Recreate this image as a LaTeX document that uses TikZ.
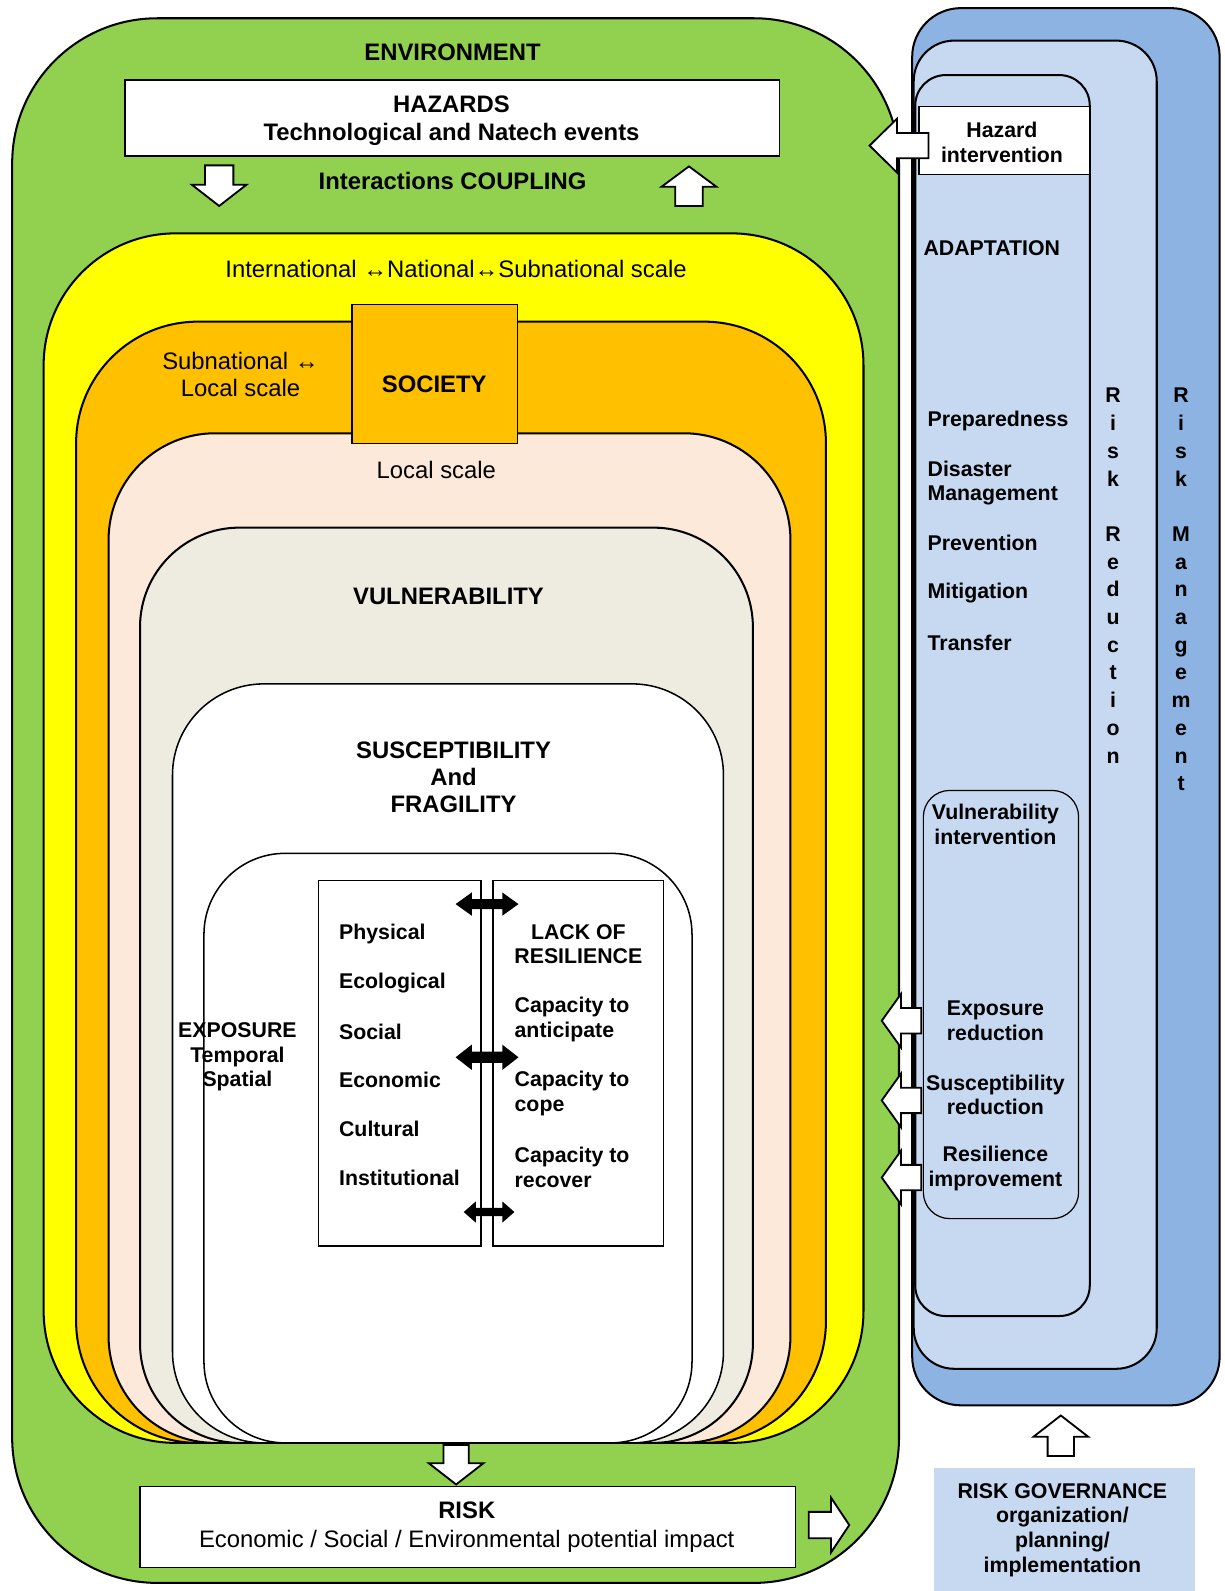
\documentclass[tikz,border=0pt]{standalone}
\usepackage{fontspec}
\setmainfont{Liberation Sans}
\definecolor{cgreen}{HTML}{92D050}
\definecolor{cyellow}{HTML}{FFFF00}
\definecolor{corange}{HTML}{FFC000}
\definecolor{cpeach}{HTML}{FDE9D9}
\definecolor{cgrey}{HTML}{EEECE1}
\definecolor{cbluedark}{HTML}{8DB3E2}
\definecolor{cbluelight}{HTML}{C6D9F1}
% vertical block arrow: cx, shafthalf, headhalf, ystart, yhead, ytip
\newcommand{\blkV}[6]{%
  \draw[barrow] ({#1-#2},#4) -- ({#1+#2},#4) -- ({#1+#2},#5) -- ({#1+#3},#5) -- (#1,#6) -- ({#1-#3},#5) -- ({#1-#2},#5) -- cycle;}
% horizontal block arrow: cy, shafthalf, headhalf, xstart, xhead, xtip
\newcommand{\blkH}[6]{%
  \draw[barrow] (#4,{#1-#2}) -- (#4,{#1+#2}) -- (#5,{#1+#2}) -- (#5,{#1+#3}) -- (#6,#1) -- (#5,{#1-#3}) -- (#5,{#1-#2}) -- cycle;}
% black double arrow: cx, cy, half length, head length, head half, shaft half
\newcommand{\dblH}[6]{%
  \fill[black] ({#1-#3},#2) -- ({#1-#3+#4},{#2-#5}) -- ({#1-#3+#4},{#2-#6}) -- ({#1+#3-#4},{#2-#6}) -- ({#1+#3-#4},{#2-#5}) -- ({#1+#3},#2) -- ({#1+#3-#4},{#2+#5}) -- ({#1+#3-#4},{#2+#6}) -- ({#1-#3+#4},{#2+#6}) -- ({#1-#3+#4},{#2+#5}) -- cycle;}
\begin{document}
\begin{tikzpicture}[x=1pt,y=-1pt,
  lay/.style={draw=black, line width=2pt},
  thinlay/.style={draw=black, line width=1.5pt},
  big/.style={font=\fontsize{23.5}{28}\selectfont, inner sep=0pt, align=center},
  bigb/.style={font=\fontsize{23.5}{28}\selectfont\bfseries, inner sep=0pt, align=center},
  sm/.style={font=\fontsize{21}{24.5}\selectfont\bfseries, inner sep=0pt, align=center},
  sml/.style={font=\fontsize{21}{24.5}\selectfont\bfseries, inner sep=0pt, align=left, anchor=west},
  vert/.style={font=\fontsize{21}{27.3}\selectfont\bfseries, inner sep=0pt, align=center, anchor=north},
  barrow/.style={draw=black, fill=white, line width=1.8pt, line join=miter},
]
\useasboundingbox (0,0) rectangle (1207,1568);

% ---- environment (green)
\draw[lay, fill=cgreen, rounded corners=143pt] (12,18) rectangle (886,1560);

% ---- risk management column
\draw[lay, fill=cbluedark, rounded corners=48pt] (899,8) rectangle (1202,1385);
\draw[lay, fill=cbluelight, rounded corners=40pt] (900.5,40) rectangle (1140,1349);
\draw[lay, fill=cbluelight, rounded corners=30pt] (902,74) rectangle (1074,1297);
\draw[thinlay, fill=white] (905.5,105) rectangle (1074,172);
\draw[draw=black, line width=1.2pt, rounded corners=26pt] (910,779) rectangle (1063,1201);

% ---- nested society boxes
\draw[lay, fill=cyellow, rounded corners=130pt] (43,230) rectangle (851,1422);
\draw[lay, fill=corange, rounded corners=120pt] (75,317) rectangle (814,1422);
\draw[lay, fill=cpeach, rounded corners=105pt] (107,427) rectangle (779,1422);
\draw[lay, fill=cgrey, rounded corners=98pt] (138,520) rectangle (742,1422);
\draw[thinlay, fill=white, rounded corners=90pt] (170,674) rectangle (713,1422);
\draw[thinlay, fill=white, rounded corners=80pt] (201,841) rectangle (682,1422);
\draw[thinlay, fill=corange] (347,300) rectangle (510,437);

% ---- hazards and risk boxes
\draw[thinlay, fill=white] (123,79) rectangle (768,154);
\draw[thinlay, fill=white] (138,1465) rectangle (784,1545);
\fill[cbluelight] (920,1447) rectangle (1178,1568);

% ---- inner lists
\draw[draw=black, line width=1.3pt, fill=white] (314,868) rectangle (474,1228);
\draw[draw=black, line width=1.3pt, fill=white] (486,868) rectangle (654,1228);
\dblH{480}{891}{31}{16}{11.5}{5}
\dblH{480}{1042}{31}{16}{12.5}{5.5}
\dblH{482}{1194.5}{25}{12}{10.5}{4}

% ---- block arrows
\blkV{216}{14}{27}{163}{182}{203}
\blkV{679}{13.5}{27}{203}{184}{164}
\blkV{449.5}{12.5}{27}{1424}{1442}{1463}
\blkH{1503}{13}{27}{797}{819}{837}
\blkV{1045.5}{13}{27}{1435}{1416}{1395}
\blkH{143.5}{12.5}{26.5}{915}{884}{857}
\blkH{1006}{12.5}{26.5}{908}{888}{869}
\blkH{1084.5}{12.5}{26.5}{908}{888}{869}
\blkH{1160.5}{12.5}{26.5}{908}{888}{869}

% ---- texts
\node[bigb] (env) at (446,52) {ENVIRONMENT};
\node[bigb] (haz) at (445,119) {HAZARDS\\Technological and Natech events};
\node[bigb] (coup) at (446,178.5) {Interactions COUPLING};
\node[big] (scaleA) at (449.5,265) {International ↔National↔Subnational scale};
\node[big, font=\fontsize{23.5}{26}\selectfont] (scaleB) at (237,369) {Subnational ↔\\Local scale};
\node[bigb] (soc) at (428,378.5) {SOCIETY};
\node[big] (local) at (430,463) {Local scale};
\node[bigb] (vul) at (442,588) {VULNERABILITY};
\node[bigb, font=\fontsize{23.5}{27}\selectfont\bfseries] (sus) at (447,766) {SUSCEPTIBILITY\\And\\FRAGILITY};
\node[sm] (expo) at (234,1041.5) {EXPOSURE\\Temporal\\Spatial};

\node[sml] (l1) at (334,920) {Physical};
\node[sml] (l2) at (334,969) {Ecological};
\node[sml] (l3) at (334,1016.5) {Social};
\node[sml] (l4) at (334,1064.5) {Economic};
\node[sml] (l5) at (334,1113) {Cultural};
\node[sml] (l6) at (334,1161) {Institutional};

\node[sm] (lack) at (570,930.5) {LACK OF\\RESILIENCE};
\node[sml] (cA) at (507,1004.5) {Capacity to\\anticipate};
\node[sml] (cB) at (507,1077.5) {Capacity to\\cope};
\node[sml] (cC) at (507,1150.5) {Capacity to\\recover};

\node[sm] (hint) at (987.5,140.5) {Hazard\\intervention};
\node[sml] (ada) at (910,245) {ADAPTATION};
\node[sml] (prep) at (914,415) {Preparedness};
\node[sml] (dis) at (914,476) {Disaster\\Management};
\node[sml] (prev) at (914,535.5) {Prevention};
\node[sml] (mit) at (914,584) {Mitigation};
\node[sml] (tra) at (914,633.5) {Transfer};
\node[sm] (vint) at (981,812.5) {Vulnerability\\intervention};
\node[sm] (expr) at (981,1006) {Exposure\\reduction};
\node[sm] (susr) at (981,1079) {Susceptibility\\reduction};
\node[sm] (resi) at (981,1152) {Resilience\\improvement};

\node[vert] (rred) at (1097,382.5) {R\\i\\s\\k\\[27.3pt]R\\e\\d\\u\\c\\t\\i\\o\\n};
\node[vert] (rman) at (1164,382.5) {R\\i\\s\\k\\[27.3pt]M\\a\\n\\a\\g\\e\\m\\e\\n\\t};

\node[big] (risk) at (460,1505) {\textbf{RISK}\\Economic / Social / Environmental potential impact};
\node[sm] (gov) at (1047,1508) {RISK GOVERNANCE\\organization/\\planning/\\implementation};
\end{tikzpicture}
\end{document}
